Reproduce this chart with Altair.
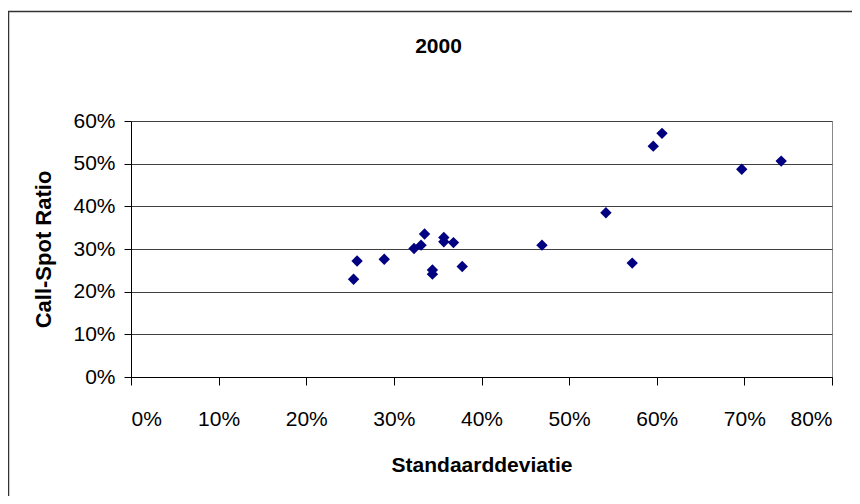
import altair as alt
import pandas as pd

std_dev = [25.4, 25.8, 28.9, 32.3, 33.1, 33.5, 34.4, 34.4, 35.7, 35.7, 36.8, 37.8,
           46.9, 54.2, 57.2, 59.6, 60.6, 69.7, 74.2]
call_spot = [22.9, 27.2, 27.6, 30.1, 30.9, 33.5, 25.1, 24.1, 32.7, 31.7, 31.5, 25.9,
             30.9, 38.5, 26.7, 54.1, 57.1, 48.7, 50.6]

df = pd.DataFrame({"x": [v / 100 for v in std_dev], "y": [v / 100 for v in call_spot]})

FONT = "Liberation Sans"

points = alt.Chart(df).mark_point(
    shape="diamond", filled=True, color="#000080", size=130, opacity=1
).encode(
    x=alt.X("x:Q", scale=alt.Scale(domain=[0, 0.8], nice=False),
            axis=alt.Axis(format=".0%", values=[i / 10 for i in range(9)],
                          title="Standaarddeviatie", grid=False,
                          tickSize=8, labelPadding=23, titlePadding=25)),
    y=alt.Y("y:Q", scale=alt.Scale(domain=[0, 0.6], nice=False),
            axis=alt.Axis(format=".0%", values=[i / 10 for i in range(7)],
                          title="Call-Spot Ratio", grid=True,
                          tickSize=7, labelPadding=9, titlePadding=17)),
)

frame_left = alt.Chart(alt.Data(values=[{"a": 1}])).mark_rule(
    stroke="#333333", strokeWidth=1.5
).encode(
    x=alt.value(-122.5), y=alt.value(-110), y2=alt.value(380)
)
frame_top = alt.Chart(alt.Data(values=[{"a": 1}])).mark_rule(
    stroke="#333333", strokeWidth=1.5
).encode(
    y=alt.value(-109.5), x=alt.value(-123), x2=alt.value(721)
)

chart = alt.layer(frame_left, frame_top, points).properties(
    width=701,
    height=256,
    background="white",
    autosize=alt.AutoSizeParams(type="none"),
    padding={"left": 123, "top": 113, "right": 20, "bottom": 119},
    title=alt.TitleParams("2000", font=FONT, fontSize=21, fontWeight="bold",
                          anchor="middle", dx=-43, offset=-64, baseline="alphabetic",
                          color="black"),
).configure_view(
    stroke="#888888", strokeWidth=1, fill="white"
).configure_axis(
    labelFont=FONT, titleFont=FONT, labelFontSize=21, titleFontSize=22,
    titleFontWeight="bold", labelColor="black", titleColor="black",
    domainColor="black", tickColor="black", gridColor="#404040", gridWidth=1,
    domainWidth=1, tickWidth=1
).configure_axisX(
    titleFontSize=21
)

chart.save("out.html", embed_options={"renderer": "svg", "actions": False})
